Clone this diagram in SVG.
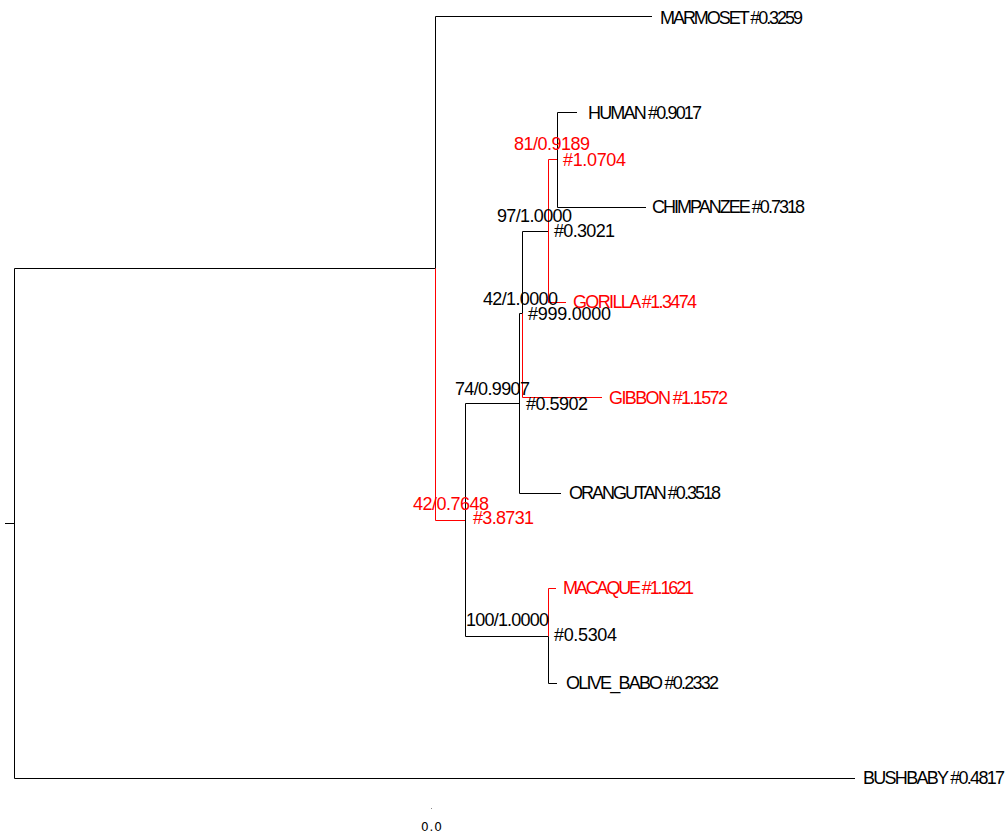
<svg xmlns="http://www.w3.org/2000/svg" width="1007" height="832" viewBox="0 0 1007 832">
<style>
.k{stroke:#000;stroke-width:1;fill:none}
.r{stroke:#ff0000;stroke-width:1;fill:none}
text{font-family:"Liberation Sans",Arial,sans-serif;font-size:18px;fill:#000}
.t{fill:#ff0000}
.s{font-family:"DejaVu Sans",sans-serif;font-size:12px;fill:#000}
</style>
<rect width="1007" height="832" fill="#fff"/>
<g id="connectors">
<path class="k" d="M5,523.5H14.5M14.5,268.5V778.5M14.5,268.5H435.5M14.5,778.5H855"/>
<path class="k" d="M435.5,16.5V268.5M435.5,16.5H652"/>
<path class="r" d="M435.5,268.5V520.5H465.5"/>
<path class="k" d="M465.5,403.5V636.5M465.5,403.5H519.5M465.5,636.5H548.5"/>
<path class="k" d="M519.5,313.5V493.5H561M519.5,313.5H522.5"/>
<path class="k" d="M522.5,231.5V313.5M522.5,231.5H548.5"/>
<path class="r" d="M522.5,313.5V397.5H602"/>
<path class="r" d="M557.5,159.5H548.5V302.5H566"/>
<path class="k" d="M577,112.5H557.5V207.5H646"/>
<path class="r" d="M556,588.5H548.5V636.5"/>
<path class="k" d="M548.5,636.5V683.5H557"/>
<path d="M431,808.5h1" stroke="#888" stroke-width="1"/>
</g>
<g id="marmoset"><text x="660" y="24" textLength="143">MARMOSET #0.3259</text></g>
<g id="human"><text x="588" y="119" textLength="114">HUMAN #0.9017</text></g>
<g id="node81"><text class="t" x="514" y="150" textLength="76">81/0.9189</text><text class="t" x="563" y="166" textLength="63">#1.0704</text></g>
<g id="chimpanzee"><text x="652" y="213" textLength="153">CHIMPANZEE #0.7318</text></g>
<g id="node97"><text x="497" y="222" textLength="75">97/1.0000</text><text x="554" y="237" textLength="61">#0.3021</text></g>
<g id="node42a"><text x="483" y="305" textLength="75">42/1.0000</text><text x="528" y="320" textLength="83">#999.0000</text></g>
<g id="gorilla"><text class="t" x="573" y="308" textLength="124">GORILLA #1.3474</text></g>
<g id="node74"><text x="455" y="395" textLength="75">74/0.9907</text><text x="526" y="410" textLength="62">#0.5902</text></g>
<g id="gibbon"><text class="t" x="609" y="404" textLength="119">GIBBON #1.1572</text></g>
<g id="orangutan"><text x="569" y="499" textLength="152">ORANGUTAN #0.3518</text></g>
<g id="node42b"><text class="t" x="413" y="510" textLength="76">42/0.7648</text><text class="t" x="473" y="524" textLength="61">#3.8731</text></g>
<g id="macaque"><text class="t" x="563" y="594" textLength="131">MACAQUE #1.1621</text></g>
<g id="node100"><text x="466" y="626" textLength="83">100/1.0000</text><text x="554" y="641" textLength="63">#0.5304</text></g>
<g id="olive_babo"><text x="566" y="689" textLength="153">OLIVE_BABO #0.2332</text></g>
<g id="bushbaby"><text x="863" y="784" textLength="142">BUSHBABY #0.4817</text></g>
<g id="scale"><text class="s" x="421" y="831" textLength="21">0.0</text></g>
</svg>
